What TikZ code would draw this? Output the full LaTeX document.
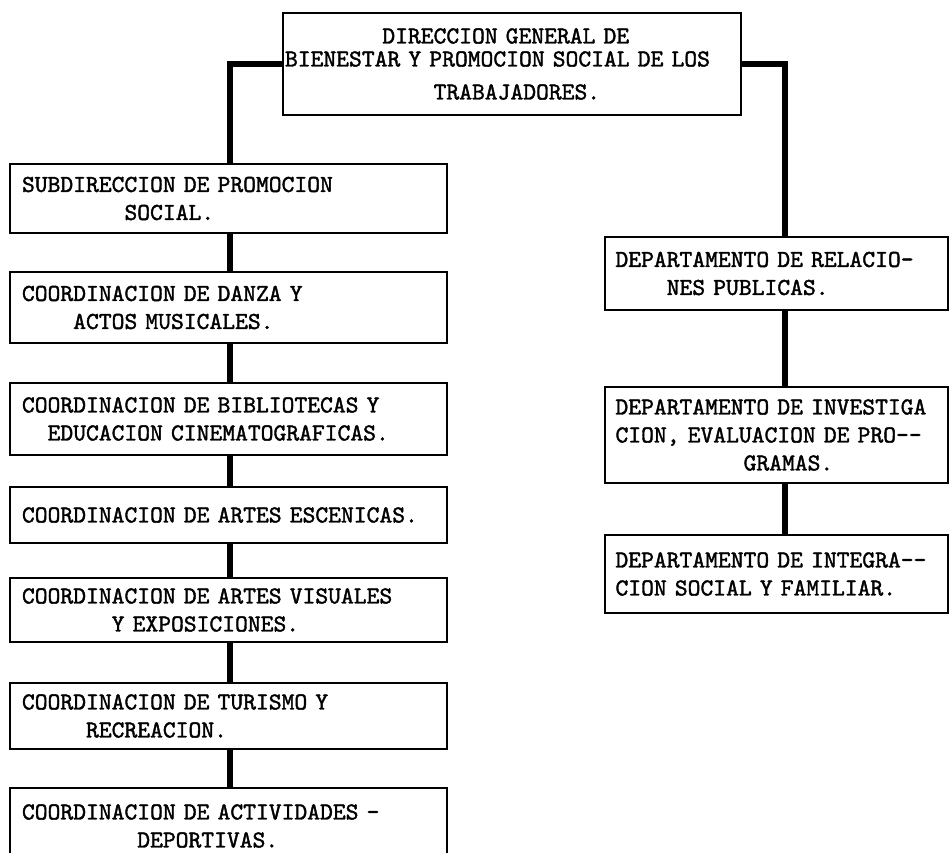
\documentclass[tikz,border=0pt]{standalone}
\usepackage{fontspec}
\newfontfamily\maquina[Extension=.otf,FakeBold=1.6]{lmmono10-regular}
\newcommand{\esp}[1]{\hspace*{#1\fontcharwd\font`\M}}
\tikzset{
  unidad/.style={draw, line width=2pt, align=left, inner ysep=0pt,
    font={\maquina\fontsize{24.4}{28}\selectfont}},
  dirbox/.style={unidad, text width=454pt, inner xsep=2pt, minimum height=102pt,
    font={\maquina\fontsize{24.4}{23}\selectfont}},
  coordbox/.style={unidad, text width=413pt, inner xsep=12pt},
  deptobox/.style={unidad, text width=322pt, inner xsep=10.5pt},
  enlace/.style={line width=6.5pt}
}
\begin{document}
\begin{tikzpicture}[x=1pt,y=-1pt]
  \useasboundingbox (0,0) rectangle (951,853);
  \clip (0,0) rectangle (951,853);
  \draw
    (512,64) node[dirbox] (dir)
      {\esp{7.6}DIRECCION GENERAL DE\\ BIENESTAR Y PROMOCION SOCIAL DE LOS\\[10pt] \esp{11.6}TRABAJADORES.}
    (228.5,198.5) node[coordbox, minimum height=69] (sub)
      {SUBDIRECCION DE PROMOCION\\ \esp{8}SOCIAL.}
    (228.5,307.5) node[coordbox, minimum height=71] (danza)
      {COORDINACION DE DANZA Y\\ \esp{4}ACTOS MUSICALES.}
    (228.5,419) node[coordbox, minimum height=72] (biblio)
      {COORDINACION DE BIBLIOTECAS Y\\ \esp{2}EDUCACION CINEMATOGRAFICAS.}
    (228.5,515) node[coordbox, minimum height=56] (escen)
      {COORDINACION DE ARTES ESCENICAS.}
    (228.5,610) node[coordbox, minimum height=64] (visual)
      {COORDINACION DE ARTES VISUALES\\ \esp{7}Y EXPOSICIONES.}
    (228.5,716) node[coordbox, minimum height=66] (turismo)
      {COORDINACION DE TURISMO Y\\ \esp{5}RECREACION.}
    (228.5,826) node[coordbox, minimum height=76] (deporte)
      {COORDINACION DE ACTIVIDADES -\\ \esp{9}DEPORTIVAS.}
    (776.5,273.5) node[deptobox, minimum height=73] (relac)
      {DEPARTAMENTO DE RELACIO-\\ \esp{4}NES PUBLICAS.}
    (776.5,435) node[deptobox, minimum height=96] (invest)
      {DEPARTAMENTO DE INVESTIGA\\ CION, EVALUACION DE PRO--\\ \esp{10}GRAMAS.}
    (776.5,574) node[deptobox, minimum height=78] (integ)
      {DEPARTAMENTO DE INTEGRA--\\ CION SOCIAL Y FAMILIAR.};
  \coordinate (izq) at (230,0);
  \coordinate (der) at (785,0);
  \begin{scope}[enlace]
    \draw (dir.west) -| (sub.north -| izq);
    \draw (sub.south -| izq) to (danza.north -| izq);
    \draw (danza.south -| izq) to (biblio.north -| izq);
    \draw (biblio.south -| izq) to (escen.north -| izq);
    \draw (escen.south -| izq) to (visual.north -| izq);
    \draw (visual.south -| izq) to (turismo.north -| izq);
    \draw (turismo.south -| izq) to (deporte.north -| izq);
    \draw (dir.east) -| (relac.north -| der);
    \draw (relac.south -| der) to (invest.north -| der);
    \draw (invest.south -| der) to (integ.north -| der);
  \end{scope}
\end{tikzpicture}
\end{document}
